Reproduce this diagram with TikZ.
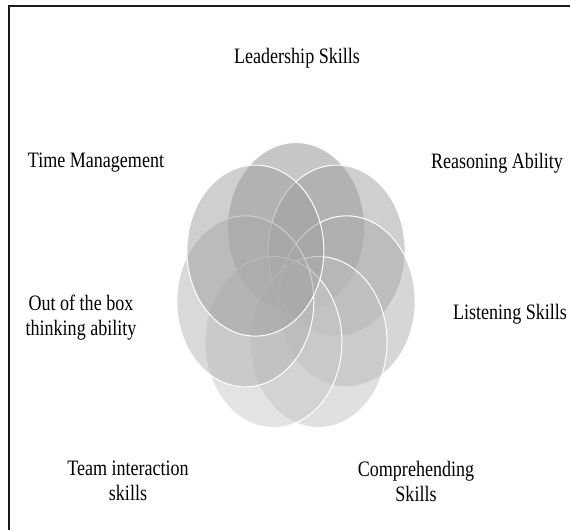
\documentclass[tikz,border=0pt]{standalone}
\usepackage{fontspec}
\setmainfont{Liberation Serif}[FakeStretch=0.82]
\usepackage{xcolor}
\definecolor{vframe}{HTML}{1a1a1a}
\definecolor{vlead}{HTML}{8d8d8d}
\definecolor{vreason}{HTML}{9f9f9f}
\definecolor{vlisten}{HTML}{adadad}
\definecolor{vcompr}{HTML}{c1c1c1}
\definecolor{vteam}{HTML}{c7c7c7}
\definecolor{vbox}{HTML}{b3b3b3}
\definecolor{vtime}{HTML}{9f9f9f}

\tikzset{
  petal/.style={draw=white, line width=1pt, fill opacity=.5},
  skill/.style={align=center, inner sep=0pt, font=\fontsize{22}{25}\selectfont}
}

\begin{document}
\begin{tikzpicture}[x=1pt, y=-1pt]
		\useasboundingbox (0,0) rectangle (570,530);
		\draw[color=vframe, line width=2.2pt] (9,530) -- (9,6) -- (570,6);
		% ring of petals, centre (296,288)
		\coordinate (lead)   at ({296 + 52*cos(90)},{288 - 60*sin(90)});
		\coordinate (reason) at ({296 + 52*cos(90 - 360/7)},{288 - 60*sin(90 - 360/7)});
		\coordinate (listen) at ({296 + 52*cos(90 - 2*360/7)},{288 - 60*sin(90 - 2*360/7)});
		\coordinate (compr)  at ({296 + 52*cos(90 - 3*360/7)},{288 - 60*sin(90 - 3*360/7)});
		\coordinate (team)   at ({296 + 52*cos(90 - 4*360/7)},{288 - 60*sin(90 - 4*360/7)});
		\coordinate (box)    at ({296 + 52*cos(90 - 5*360/7)},{288 - 60*sin(90 - 5*360/7)});
		\coordinate (time)   at ({296 + 52*cos(90 - 6*360/7)},{288 - 60*sin(90 - 6*360/7)});
		\draw[petal, fill=vlead]   (lead)   circle [x radius=68.5, y radius=85.5];
		\draw[petal, fill=vreason] (reason) circle [x radius=68.5, y radius=85.5];
		\draw[petal, fill=vlisten] (listen) circle [x radius=68.5, y radius=85.5];
		\draw[petal, fill=vcompr]  (compr)  circle [x radius=68.5, y radius=85.5];
		\draw[petal, fill=vteam]   (team)   circle [x radius=68.5, y radius=85.5];
		\draw[petal, fill=vbox]    (box)    circle [x radius=68.5, y radius=85.5];
		\draw[petal, fill=vtime]   (time)   circle [x radius=68.5, y radius=85.5];
		% labels
		\node[skill] (leadlabel)   at (297,58)  {Leadership Skills};
		\node[skill] (reasonlabel) at (497,163) {Reasoning Ability};
		\node[skill] (listenlabel) at (510,314) {Listening Skills};
		\node[skill] (comprlabel)  at (416,481) {Comprehending\\Skills};
		\node[skill] (teamlabel)   at (128,481) {Team interaction\\skills};
		\node[skill] (boxlabel)    at (81,318)  {Out of the box\\thinking ability};
		\node[skill] (timelabel)   at (96,163)  {Time Management};
	\end{tikzpicture}
\end{document}
